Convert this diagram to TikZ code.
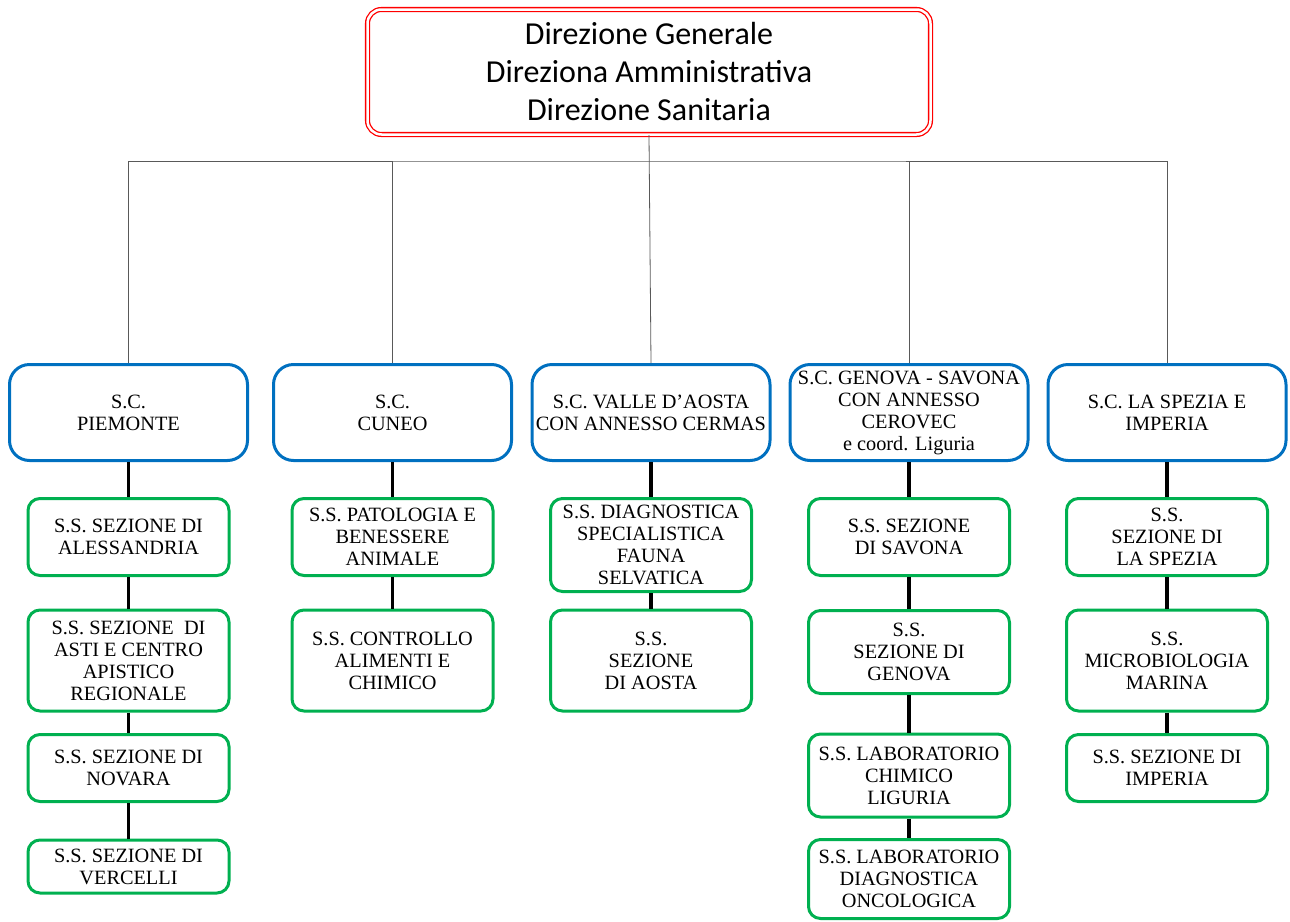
\documentclass[tikz,border=0pt]{standalone}
\usepackage{fontspec}
\setmainfont{Liberation Serif}
\newfontfamily\dirfont{Carlito}
\definecolor{scblue}{RGB}{0,112,192}
\definecolor{ssgreen}{RGB}{0,176,80}

\begin{document}
\begin{tikzpicture}
            [x=1pt, y=-1pt, semithick,
             dirbox/.style={shape=rectangle, rounded corners=14pt, draw=red, double=white, double distance=2.5pt, line width=1.3pt, minimum width=563pt, minimum height=125pt, align=center, font=\dirfont\fontsize{32}{38}\selectfont},
             scbox/.style={shape=rectangle, rounded corners=20pt, draw=scblue, line width=3pt, minimum width=238pt, minimum height=96pt, align=center, font=\fontsize{20.3}{22}\selectfont},
             ssbox/.style={shape=rectangle, rounded corners=12pt, draw=ssgreen, line width=3pt, minimum width=201pt, inner sep=1pt, align=center, font=\fontsize{20.3}{22}\selectfont},
             bus/.style={draw=black!65, line width=0.8pt},
             link/.style={draw=black, line width=3.5pt}]
            \useasboundingbox (0,0) rectangle (1290,921);

            \node[dirbox] (dir) at (649, 72) {Direzione Generale\\Direziona Amministrativa\\Direzione Sanitaria};
            \coordinate (bus) at (650, 161);

            % strutture complesse
            \node[scbox] (piemonte) at (128.5, 412.5) {S.C.\\PIEMONTE};
            \node[scbox] (cuneo) at (392.5, 412.5) {S.C.\\CUNEO};
            \node[scbox] (aosta) at (651, 412.5) {S.C. VALLE D’AOSTA\\CON ANNESSO CERMAS};
            \node[scbox] (genova) at (909, 412.5) {S.C. GENOVA - SAVONA\\CON ANNESSO\\CEROVEC\\e coord. Liguria};
            \node[scbox] (spezia) at (1167, 412.5) {S.C. LA SPEZIA E\\IMPERIA};

            % strutture semplici
            \node[ssbox, minimum height=77pt] (alessandria) at (128.5, 537) {S.S. SEZIONE DI\\ALESSANDRIA};
            \node[ssbox, minimum height=101pt] (asti) at (128.5, 660.5) {S.S. SEZIONE~ DI\\ASTI E CENTRO\\APISTICO\\REGIONALE};
            \node[ssbox, minimum height=67pt] (novara) at (128.5, 768) {S.S. SEZIONE DI\\NOVARA};
            \node[ssbox, minimum height=53pt] (vercelli) at (128.5, 866.5) {S.S. SEZIONE DI\\VERCELLI};

            \node[ssbox, minimum height=77pt] (patologia) at (392.5, 537) {S.S. PATOLOGIA E\\BENESSERE\\ANIMALE};
            \node[ssbox, minimum height=101pt] (controllo) at (392.5, 660.5) {S.S. CONTROLLO\\ALIMENTI E\\CHIMICO};

            \node[ssbox, minimum height=93pt] (fauna) at (651, 545) {S.S. DIAGNOSTICA\\SPECIALISTICA\\FAUNA\\SELVATICA};
            \node[ssbox, minimum height=101pt] (sezaosta) at (651, 660.5) {S.S.\\SEZIONE\\DI AOSTA};

            \node[ssbox, minimum height=77pt] (savona) at (909, 537) {S.S. SEZIONE\\DI SAVONA};
            \node[ssbox, minimum height=83pt] (sezgenova) at (909, 652) {S.S.\\SEZIONE DI\\GENOVA};
            \node[ssbox, minimum height=83pt] (labchim) at (909, 775.5) {S.S. LABORATORIO\\CHIMICO\\LIGURIA};
            \node[ssbox, minimum height=79pt] (labonco) at (909, 879) {S.S. LABORATORIO\\DIAGNOSTICA\\ONCOLOGICA};

            \node[ssbox, minimum height=77pt] (sezspezia) at (1167, 537) {S.S.\\SEZIONE DI\\LA SPEZIA};
            \node[ssbox, minimum height=101pt] (microbio) at (1167, 660.5) {S.S.\\MICROBIOLOGIA\\MARINA};
            \node[ssbox, minimum height=67pt] (imperia) at (1167, 768) {S.S. SEZIONE DI\\IMPERIA};

            % linee della direzione
            \draw[bus] (dir.south) -- (aosta.north);
            \draw[bus] (piemonte.north) |- (bus) -| (spezia.north);
            \draw[bus] (cuneo.north) -- (cuneo.north |- bus);
            \draw[bus] (genova.north) -- (genova.north |- bus);

            \path[link] (piemonte) edge (alessandria);
            \path[link] (alessandria) edge (asti);
            \path[link] (asti) edge (novara);
            \path[link] (novara) edge (vercelli);
            \path[link] (cuneo) edge (patologia);
            \path[link] (patologia) edge (controllo);
            \path[link] (aosta) edge (fauna);
            \path[link] (fauna) edge (sezaosta);
            \path[link] (genova) edge (savona);
            \path[link] (savona) edge (sezgenova);
            \path[link] (sezgenova) edge (labchim);
            \path[link] (labchim) edge (labonco);
            \path[link] (spezia) edge (sezspezia);
            \path[link] (sezspezia) edge (microbio);
            \path[link] (microbio) edge (imperia);
        \end{tikzpicture}
\end{document}
